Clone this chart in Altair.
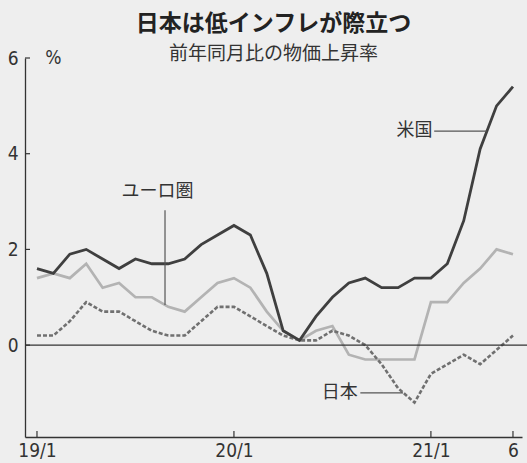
import altair as alt
import pandas as pd

# ---- data ----
month_idx = list(range(30))          # 2019/1 ... 2021/6
us =    [1.6, 1.5, 1.9, 2.0, 1.8, 1.6, 1.8, 1.7, 1.7, 1.8, 2.1, 2.3,
         2.5, 2.3, 1.5, 0.3, 0.1, 0.6, 1.0, 1.3, 1.4, 1.2, 1.2, 1.4,
         1.4, 1.7, 2.6, 4.1, 5.0, 5.4]
euro =  [1.4, 1.5, 1.4, 1.7, 1.2, 1.3, 1.0, 1.0, 0.8, 0.7, 1.0, 1.3,
         1.4, 1.2, 0.7, 0.3, 0.1, 0.3, 0.4, -0.2, -0.3, -0.3, -0.3, -0.3,
         0.9, 0.9, 1.3, 1.6, 2.0, 1.9]
japan = [0.2, 0.2, 0.5, 0.9, 0.7, 0.7, 0.5, 0.3, 0.2, 0.2, 0.5, 0.8,
         0.8, 0.6, 0.4, 0.2, 0.1, 0.1, 0.3, 0.2, 0.0, -0.4, -0.9, -1.2,
         -0.6, -0.4, -0.2, -0.4, -0.1, 0.2]

xtick_vals = [0, 12, 24, 29]
xtick_labels = ["19/1", "20/1", "21/1", "6"]
ytick_vals = [0, 2, 4, 6]

label_text = ["米国", "ユーロ圏", "日本"]
label_x = [24.1, 7.35, 19.55]
label_y = [4.47, 3.2, -1.0]
label_align = ["right", "center", "right"]

lead_x = [24.2, 7.8, 19.7]
lead_x2 = [27.4, 7.8, 22.3]
lead_y = [4.47, 2.82, -1.0]
lead_y2 = [4.47, 0.84, -1.0]

XMIN, XMAX = -0.73, 29.55
YMIN, YMAX = -1.92, 6.0
W, H = 497, 379

CJK = "Noto Sans CJK JP"
NUM = "Liberation Sans Narrow, DejaVu Sans Condensed, Roboto, sans-serif"
INK = "#333333"

xs = alt.Scale(domain=[XMIN, XMAX], nice=False, zero=False)
ys = alt.Scale(domain=[YMIN, YMAX], nice=False, zero=False)

label_expr = " : ".join(
    f"datum.value == {v} ? '{t}'" for v, t in zip(xtick_vals, xtick_labels)
) + " : ''"

df_us = pd.DataFrame({"i": month_idx, "v": us})
df_eu = pd.DataFrame({"i": month_idx, "v": euro})
df_jp = pd.DataFrame({"i": month_idx, "v": japan})

x_axis = alt.Axis(values=xtick_vals, labelExpr=label_expr, ticks=False, grid=False,
                  domainColor=INK, domainWidth=1.3, labelFont=NUM, labelFontSize=19,
                  labelColor=INK, labelPadding=4, title=None, labelFlush=False)
y_axis = alt.Axis(values=ytick_vals, ticks=False, grid=False, domainColor=INK,
                  domainWidth=1.3, labelFont=NUM, labelFontSize=19, labelColor=INK,
                  labelPadding=7, title=None)

base_x = alt.X("i:Q", scale=xs, axis=x_axis)
base_y = alt.Y("v:Q", scale=ys, axis=y_axis)

line_eu = alt.Chart(df_eu).mark_line(color="#b3b3b3", strokeWidth=2.7).encode(x=base_x, y=base_y)
line_jp = alt.Chart(df_jp).mark_line(color="#707070", strokeWidth=2.6, strokeDash=[4, 2]).encode(
    x=alt.X("i:Q", scale=xs), y=alt.Y("v:Q", scale=ys))
line_us = alt.Chart(df_us).mark_line(color="#3f3f3f", strokeWidth=2.8).encode(
    x=alt.X("i:Q", scale=xs), y=alt.Y("v:Q", scale=ys))

zero = alt.Chart(pd.DataFrame({"z": [0]})).mark_rule(color=INK, strokeWidth=1.3).encode(
    y=alt.Y("z:Q", scale=ys), x=alt.value(0), x2=alt.value(W + 5))

ytk = alt.Chart(pd.DataFrame({"t": ytick_vals})).mark_rule(color=INK, strokeWidth=1.2).encode(
    y=alt.Y("t:Q", scale=ys), x=alt.value(0), x2=alt.value(5))
xtk = alt.Chart(pd.DataFrame({"t": xtick_vals})).mark_rule(color=INK, strokeWidth=1.2).encode(
    x=alt.X("t:Q", scale=xs), y=alt.value(H), y2=alt.value(H - 6))

pct = alt.Chart(pd.DataFrame({"x": [1.0], "y": [6.0], "t": ["%"]})).mark_text(
    font=NUM, fontSize=19, color=INK, baseline="middle", align="center").encode(
    x=alt.X("x:Q", scale=xs), y=alt.Y("y:Q", scale=ys), text="t:N")

df_lab = pd.DataFrame({"t": label_text, "x": label_x, "y": label_y, "a": label_align})
lab_layers = []
for k in range(len(label_text)):
    lab_layers.append(
        alt.Chart(df_lab.iloc[[k]]).mark_text(
            font=CJK, fontSize=18, color=INK, baseline="middle", align=label_align[k]).encode(
            x=alt.X("x:Q", scale=xs), y=alt.Y("y:Q", scale=ys), text="t:N"))

df_lead = pd.DataFrame({"x": lead_x, "x2": lead_x2, "y": lead_y, "y2": lead_y2})
leads = alt.Chart(df_lead).mark_rule(color="#555555", strokeWidth=1.2).encode(
    x=alt.X("x:Q", scale=xs), x2="x2:Q", y=alt.Y("y:Q", scale=ys), y2="y2:Q")

chart = alt.layer(
    line_eu, line_jp, line_us, zero, ytk, xtk, pct, leads, *lab_layers
).properties(
    width=W, height=H,
    autosize=alt.AutoSizeParams(type="none"),
    padding={"left": 25, "top": 58, "right": 5, "bottom": 26},
    background="#eeeeee",
    title=alt.TitleParams(
        text="日本は低インフレが際立つ",
        subtitle="前年同月比の物価上昇率",
        font=CJK, fontSize=23, fontWeight="bold", color="#222222",
        subtitleFont=CJK, subtitleFontSize=19, subtitleColor=INK,
        subtitlePadding=9, anchor="middle", offset=-15,
    ),
).configure_view(stroke=None)

chart.save("out.html", embed_options={"renderer": "svg", "actions": False})
